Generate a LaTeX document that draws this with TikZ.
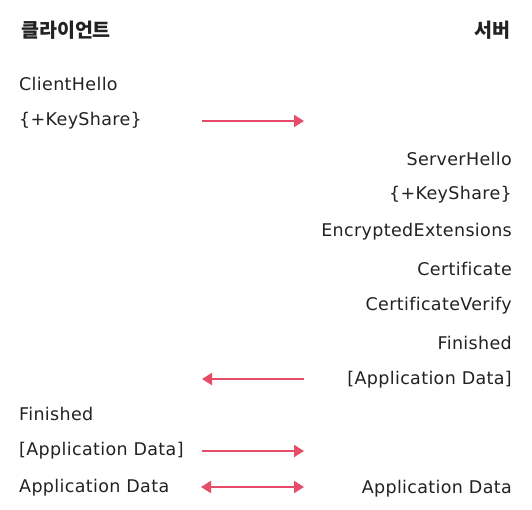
\documentclass[tikz,border=0pt]{standalone}
\usepackage{fontspec}
\setmainfont[Ligatures={NoCommon}]{DejaVu Sans}
\newfontfamily\krfont{Noto Sans CJK KR}
\usetikzlibrary{arrows.meta}
\definecolor{arrowred}{HTML}{E64D69}
\definecolor{inkblack}{HTML}{222222}
\tikzset{
  msg/.style={inner sep=0pt, text=inkblack, font=\fontsize{17.5}{20}\selectfont\addfontfeatures{LetterSpace=2}},
  lmsg/.style={msg, anchor=west},
  rmsg/.style={msg, anchor=east},
  title/.style={inner sep=0pt, text=inkblack, font=\krfont\bfseries\fontsize{19.5}{23}\selectfont},
  tip/.tip={Triangle[length=10pt,width=12pt]},
  flow/.style={draw=arrowred, line width=2pt, -tip},
  flowboth/.style={draw=arrowred, line width=2pt, tip-tip}
}
\begin{document}
\begin{tikzpicture}[x=1pt,y=-1pt]
\useasboundingbox[fill=white] (0,0) rectangle (532,509);
\node[title, anchor=west] (client) at (21,30) {클라이언트};
\node[title, anchor=east] (server) at (511,30) {서버};
\node[lmsg] (ch) at (19,84) {ClientHello};
\node[lmsg] (cks) at (19,121) {\{+KeyShare\}};
\node[rmsg] (sh) at (512,159) {ServerHello};
\node[rmsg] (sks) at (512,195) {\{+KeyShare\}};
\node[rmsg] (ee) at (512,232) {EncryptedExtensions};
\node[rmsg] (cert) at (512,269) {Certificate};
\node[rmsg] (cv) at (512,306) {CertificateVerify};
\node[rmsg] (sfin) at (512,343) {Finished};
\node[rmsg] (sad) at (512,380) {[Application Data]};
\node[lmsg] (cfin) at (19,414) {Finished};
\node[lmsg] (cad) at (19,451) {[Application Data]};
\node[lmsg] (cad2) at (19,488) {Application Data};
\node[rmsg] (sad2) at (512,489) {Application Data};
\coordinate (a1s) at (202,121); \coordinate (a1e) at (304,121);
\coordinate (a2s) at (304,379); \coordinate (a2e) at (202,379);
\coordinate (a3s) at (202,451); \coordinate (a3e) at (304,451);
\coordinate (a4s) at (201,487); \coordinate (a4e) at (304,487);
\draw[flow] (a1s) -- (a1e);
\draw[flow] (a2s) -- (a2e);
\draw[flow] (a3s) -- (a3e);
\draw[flowboth] (a4s) -- (a4e);
\end{tikzpicture}
\end{document}
